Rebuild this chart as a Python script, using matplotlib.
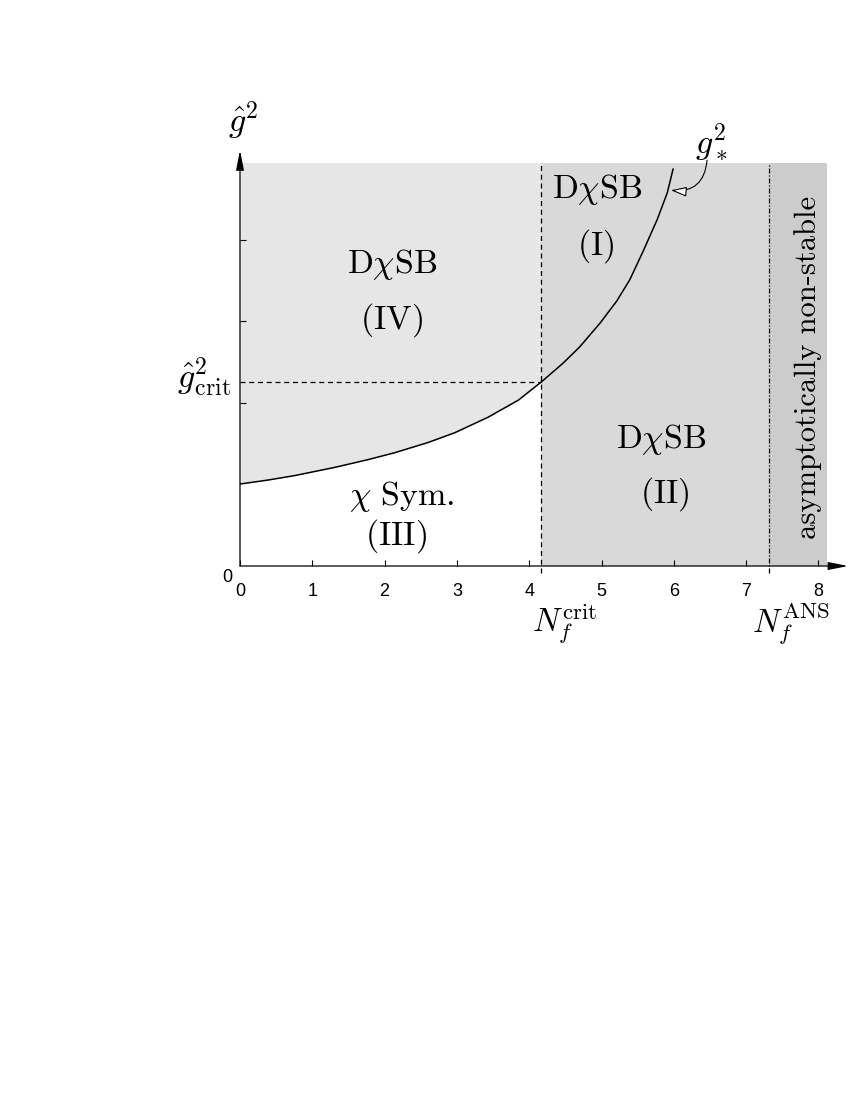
import matplotlib
matplotlib.use("Agg")
import matplotlib.pyplot as plt
import numpy as np

plt.rcParams['mathtext.fontset'] = 'cm'
plt.rcParams['font.family'] = ['Liberation Sans', 'DejaVu Sans']

# ---- data ----
curve_x = [0.00, 0.39, 0.76, 1.31, 1.77, 2.14, 2.60, 2.97, 3.43, 3.85, 4.17,
           4.47, 4.70, 4.98, 5.21, 5.39, 5.58, 5.77, 5.91, 5.99]
curve_y = [1.006, 1.055, 1.110, 1.210, 1.305, 1.390, 1.515, 1.635, 1.825, 2.035, 2.26,
           2.49, 2.69, 2.98, 3.25, 3.51, 3.87, 4.25, 4.58, 4.87]
Nf_crit = 4.17
Nf_ANS = 7.32
g_crit = 2.26
g_top = 4.95
x_right = 8.12
x_ticks = [0, 1, 2, 3, 4, 5, 6, 7, 8]
x_tick_labels = ['0', '1', '2', '3', '4', '5', '6', '7', '8']
y_ticks = [2, 3, 4]

c_left = '#e6e6e6'
c_mid = '#d9d9d9'
c_right = '#cccccc'

fig = plt.figure(figsize=(8.5, 11), dpi=100)
ax = fig.add_axes([240/850, (1100-566)/1100, 8.12*72.3/850, 4.95*81.5/1100])
ax.set_xlim(0, x_right)
ax.set_ylim(0, g_top)
for s in ax.spines.values():
    s.set_visible(False)

cx = np.array(curve_x)
cy = np.array(curve_y)
left_mask = cx <= Nf_crit + 1e-9
ax.fill_between(cx[left_mask], cy[left_mask], g_top, color=c_left, lw=0, zorder=0)
ax.axvspan(Nf_crit, Nf_ANS, 0, 1, color=c_mid, lw=0, zorder=0)
ax.axvspan(Nf_ANS, x_right, 0, 1, color=c_right, lw=0, zorder=0)

ax.plot(cx, cy, color='black', lw=1.1, zorder=3, solid_joinstyle='round')
ax.plot([0, Nf_crit], [g_crit, g_crit], color='black', lw=0.9,
        linestyle=(0, (4, 3)), zorder=2)
ax.plot([Nf_crit, Nf_crit], [-0.08, g_top], color='black', lw=0.9,
        linestyle=(0, (4, 3)), zorder=2, clip_on=False)
ax.plot([Nf_ANS, Nf_ANS], [-0.08, g_top], color='black', lw=0.9,
        linestyle=(0, (4, 1.5, 1, 1.5)), zorder=2, clip_on=False)

# axes with arrows
arrow_kw = dict(arrowstyle='-|>,head_length=1.0,head_width=0.2', lw=0.9,
                color='black', shrinkA=0, shrinkB=0, mutation_scale=12)
ax.annotate('', xy=(8.41, 0), xytext=(0, 0), arrowprops=arrow_kw,
            annotation_clip=False, zorder=5)
ax.annotate('', xy=(0, 5.10), xytext=(0, 0), arrowprops=arrow_kw,
            annotation_clip=False, zorder=5)

ax.set_xticks(x_ticks)
ax.set_xticklabels(x_tick_labels)
ax.set_yticks(y_ticks)
ax.set_yticklabels([])
ax.tick_params(axis='x', direction='in', length=4, width=0.8, pad=12,
               labelsize=13)
ax.tick_params(axis='y', direction='in', length=4, width=0.8)

fs = 24.5
ax.text(-0.17, -0.135, '0', fontsize=13, ha='center', va='center')

ax.text(2.10, 3.595, r'$\mathrm{D}\chi\mathrm{SB}$', fontsize=fs, ha='center', va='baseline')
ax.text(2.09, 2.92, r'$\mathrm{(IV)}$', fontsize=fs, ha='center', va='baseline')
ax.text(4.94, 4.515, r'$\mathrm{D}\chi\mathrm{SB}$', fontsize=fs, ha='center', va='baseline')
ax.text(4.92, 3.816, r'$\mathrm{(I)}$', fontsize=fs, ha='center', va='baseline')
ax.text(5.82, 1.448, r'$\mathrm{D}\chi\mathrm{SB}$', fontsize=fs, ha='center', va='baseline')
ax.text(5.88, 0.773, r'$\mathrm{(II)}$', fontsize=fs, ha='center', va='baseline')
ax.text(2.24, 0.748, r'$\chi\ \mathrm{Sym.}$', fontsize=fs, ha='center', va='baseline')
ax.text(2.16, 0.258, r'$\mathrm{(III)}$', fontsize=fs, ha='center', va='baseline')
ax.text(7.86, 2.44, 'asymptotically non-stable', fontfamily='cmr10', fontsize=22,
        rotation=90, ha='center', va='center')

# g*^2 label and curved arrow
ax.text(6.52, 5.19, r'$g_*^2$', fontsize=fs, ha='center', va='center', clip_on=False)
ax.annotate('', xy=(5.96, 4.61), xytext=(6.46, 4.98),
            arrowprops=dict(arrowstyle='-|>,head_length=0.8,head_width=0.25',
                            fc='white', ec='black', lw=0.8, shrinkA=0, shrinkB=0,
                            mutation_scale=12, connectionstyle='arc3,rad=-0.5'),
            annotation_clip=False, zorder=6)

# axis labels
ax.text(0.04, 5.46, r'$\hat{g}^2$', fontsize=fs, ha='center', va='center', clip_on=False)
ax.text(-0.125, 2.31, r'$\hat{g}^2_{\mathrm{crit}}$', fontsize=fs, ha='right', va='center')
ax.text(4.04, -0.81, r'$N_f^{\mathrm{crit}}$', fontsize=23.5, ha='left', va='baseline')
ax.text(7.08, -0.81, r'$N_f^{\mathrm{ANS}}$', fontsize=23.5, ha='left', va='baseline')

fig.savefig('out.png', dpi=100)
